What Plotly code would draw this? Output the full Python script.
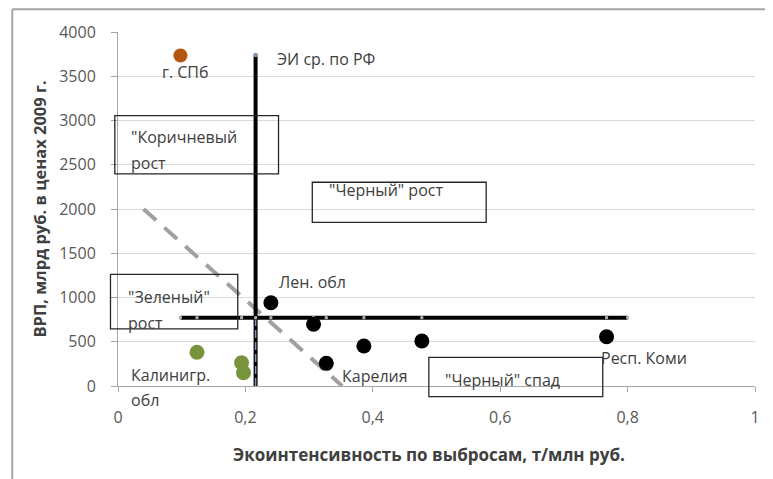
import plotly.graph_objects as go

# ---- data ----
spb_x = [0.098]
spb_y = [3735]
green_x = [0.124, 0.194, 0.197]
green_y = [381, 263, 150]
black_x = [0.240, 0.307, 0.327, 0.386, 0.477, 0.767]
black_y = [941, 697, 256, 452, 508, 557]

ei_rf = 0.216          # ЭИ ср. по РФ
vline_y = [0, 3740]
vline_low_y = [0, 772]
grp_level = 772        # horizontal line level
hline_x = [0.098, 0.124, 0.194, 0.216, 0.240, 0.307, 0.327, 0.386, 0.477, 0.767, 0.80]
diag_x = [0.04, 0.352]
diag_y = [2000, 0]

x_ticks = [0, 0.2, 0.4, 0.6, 0.8, 1]
x_ticktext = ["0", "0,2", "0,4", "0,6", "0,8", "1"]
y_ticks = [0, 500, 1000, 1500, 2000, 2500, 3000, 3500, 4000]
y_ticktext = ["0", "500", "1000", "1500", "2000", "2500", "3000", "3500", "4000"]

FONT = "Open Sans"
TXT = "#404040"
fs = 16
YMAX = 4000

fig = go.Figure()

# diagonal dashed line
fig.add_trace(go.Scatter(x=diag_x, y=diag_y, mode="lines",
                         line=dict(color="#a0a0a0", width=4, dash="17px,11px"),
                         hoverinfo="skip", showlegend=False))
# vertical line
fig.add_trace(go.Scatter(x=[ei_rf, ei_rf], y=vline_y, mode="lines",
                         line=dict(color="black", width=4),
                         hoverinfo="skip", showlegend=False))
fig.add_trace(go.Scatter(x=[ei_rf, ei_rf], y=vline_low_y, mode="lines",
                         line=dict(color="#8198b8", width=1.5, dash="8px,4px"),
                         hoverinfo="skip", showlegend=False))
fig.add_trace(go.Scatter(x=[ei_rf], y=[vline_y[-1]], mode="markers",
                         marker=dict(color="#7f96b6", size=4, symbol="square"),
                         hoverinfo="skip", showlegend=False))
# horizontal line
fig.add_trace(go.Scatter(x=hline_x, y=[grp_level] * len(hline_x), mode="lines+markers",
                         line=dict(color="black", width=4),
                         marker=dict(color="#b0b0b0", size=3, symbol="square"),
                         hoverinfo="skip", showlegend=False))
# points
fig.add_trace(go.Scatter(x=spb_x, y=spb_y, mode="markers",
                         marker=dict(color="#b5560f", size=14), showlegend=False))
fig.add_trace(go.Scatter(x=green_x, y=green_y, mode="markers",
                         marker=dict(color="#77933c", size=15), showlegend=False))
fig.add_trace(go.Scatter(x=black_x, y=black_y, mode="markers",
                         marker=dict(color="black", size=15), showlegend=False))

# labels (left edge, vertical centre) -- paper coords, y scaled by YMAX
labels = [
    (0.0667, 3552, "г. СПб"),
    (0.246, 3692, "ЭИ ср. по РФ"),
    (0.2497, 1179, "Лен. обл"),
    (0.0165, 124, "Калинигр."),
    (0.0165, -158, "обл"),
    (0.348, 113, "Карелия"),
    (0.755, 313, "Респ. Коми"),
    (0.018, 2814, "\"Коричневый"),
    (0.018, 2520, "рост"),
    (0.328, 2215, "\"Черный\" рост"),
    (0.0118, 1009, "\"Зеленый\""),
    (0.0118, 712, "рост"),
    (0.510, 68, "\"Черный\" спад"),
]
for lx, ly, t in labels:
    fig.add_annotation(x=lx, y=ly / YMAX, xref="paper", yref="paper", text=t,
                       showarrow=False, xanchor="left", yanchor="middle",
                       font=dict(family=FONT, size=fs, color=TXT))

# boxes (paper coords: x paper == x data, y paper == y/YMAX)
boxes = [
    (-0.005, 0.252, 2396, 3055),
    (0.305, 0.578, 1848, 2302),
    (-0.0118, 0.188, 645, 1262),
    (0.488, 0.761, -121, 323),
]
for x0, x1, y0, y1 in boxes:
    fig.add_shape(type="rect", xref="paper", yref="paper",
                  x0=x0, x1=x1, y0=y0 / YMAX, y1=y1 / YMAX,
                  line=dict(color="#262626", width=1.3), fillcolor="rgba(0,0,0,0)")

# outer chart frame (left and top edges visible)
fig.add_shape(type="line", xref="paper", yref="paper",
              x0=-0.166, x1=-0.166, y0=-0.3, y1=1.064,
              line=dict(color="#a6a6a6", width=2))
fig.add_shape(type="line", xref="paper", yref="paper",
              x0=-0.166, x1=1.1, y0=1.064, y1=1.064,
              line=dict(color="#a6a6a6", width=2))

# axis titles
fig.add_annotation(x=-0.1247, y=0.5, xref="paper", yref="paper",
                   text="<b>ВРП, млрд руб. в ценах 2009 г.</b>", textangle=-90,
                   showarrow=False, xanchor="center", yanchor="middle",
                   font=dict(family=FONT, size=16.5, color=TXT))
fig.add_annotation(x=0.488, y=-0.194, xref="paper", yref="paper",
                   text="<b>Экоинтенсивность по выбросам, т/млн руб.</b>",
                   showarrow=False, xanchor="center", yanchor="middle",
                   font=dict(family=FONT, size=17, color=TXT))

# page body has an 8px margin: plot area placed so that on screen it spans
# x 117.5..755, y 32..386
fig.update_layout(
    width=773, height=479,
    margin=dict(l=109.5, r=26, t=24, b=101),
    plot_bgcolor="white", paper_bgcolor="white",
    font=dict(family=FONT, size=fs, color="#595959"),
)
fig.update_xaxes(range=[0, 1], tickvals=x_ticks, ticktext=x_ticktext,
                 showgrid=False, zeroline=False, showline=True, linecolor="#a6a6a6",
                 ticks="outside", ticklen=5, tickcolor="#a6a6a6", ticklabelstandoff=12,
                 tickfont=dict(family=FONT, size=fs, color="#595959"))
fig.update_yaxes(range=[0, YMAX], tickvals=y_ticks, ticktext=y_ticktext,
                 showgrid=True, gridcolor="#d9d9d9", zeroline=False,
                 showline=True, linecolor="#a6a6a6",
                 ticks="outside", ticklen=6, tickcolor="#a6a6a6", ticklabelstandoff=12,
                 tickfont=dict(family=FONT, size=fs, color="#595959"))

fig.write_html("out.html")
